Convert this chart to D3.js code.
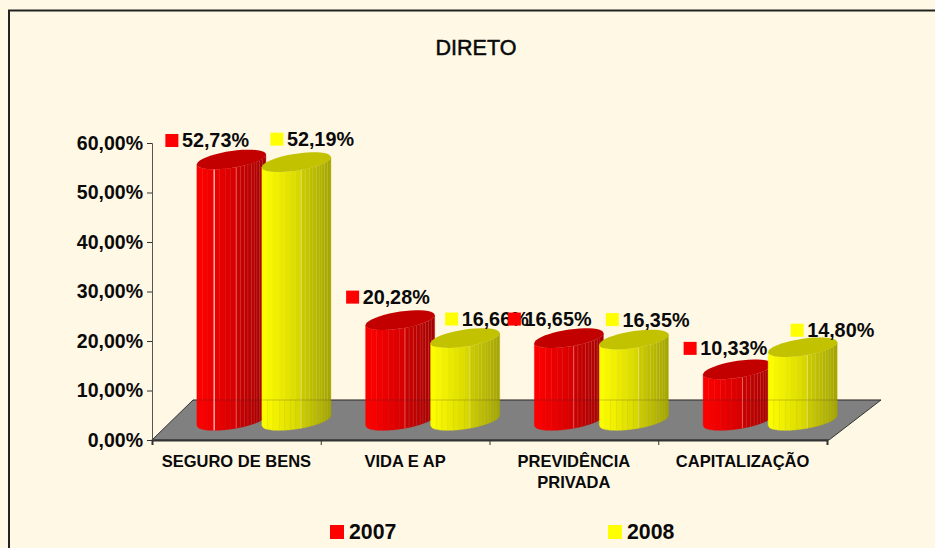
<!DOCTYPE html>
<html><head><meta charset="utf-8">
<script src="https://cdn.jsdelivr.net/npm/d3@7"></script>
<style>html,body{margin:0;padding:0;background:#FFF8E5;overflow:hidden}svg{display:block}text{font-family:"Liberation Sans",Arial,sans-serif;fill:#0a0a0a}</style>
</head><body><svg id="c" width="935" height="548"></svg>
<script>
const title = "DIRETO";
const categories = ["SEGURO DE BENS", "VIDA E AP", "PREVIDÊNCIA PRIVADA", "CAPITALIZAÇÃO"];
const seriesNames = ["2007", "2008"];
const values2007 = [52.73, 20.28, 16.65, 10.33];
const values2008 = [52.19, 16.66, 16.35, 14.80];
const yTicks = [0, 10, 20, 30, 40, 50, 60];

// layout only: label nudges relative to the top of each cylinder
const labelDx = [[-66, -54, -61, -54], [-26, -20, -28, -12]];
const labelDy = [[-19, -23, -19, -21], [-23, -19, -20, -17]];

const fmt = v => v.toFixed(2).replace(".", ",") + "%";
const svg = d3.select("#c");
const W = 935, H = 548;
const left = 152, right = 827, y0 = 440, yTop = 143, depthX = 52, depthY = 40;
const baseLift = 19.5, barOffset = 27.5;

const colors = [[255, 0, 0], [255, 255, 0]];
const shade = (c, f) => d3.rgb(c[0] * f, c[1] * f, c[2] * f).formatRgb();

const x = d3.scaleBand().domain(categories).range([left, right]);
const edge = d3.scaleLinear().domain([0, categories.length]).range([left, right]);
const y = d3.scaleLinear().domain([0, 60]).range([y0, yTop]);
const sub = d3.scaleBand().domain(seriesNames).range([-65, 65]);

// frame
svg.append("path").attr("d", `M9,${H}V10.5H${W}`).attr("fill", "none").attr("stroke", "#222").attr("stroke-width", 2);

// title
svg.append("text").attr("x", 476).attr("y", 55).attr("text-anchor", "middle")
  .attr("font-size", 21.5).attr("stroke", "#0a0a0a").attr("stroke-width", .5).text(title);

// floor
svg.append("path").attr("d", d3.line()([[left, y0], [right + 2, y0], [right + 2 + depthX, y0 - depthY], [left + 41, y0 - depthY]]) + "Z")
  .attr("fill", "#808080").attr("stroke", "#333").attr("stroke-width", 1);

// axes
const gy = svg.append("g").attr("transform", `translate(${left},0)`)
  .call(d3.axisLeft(y).tickValues(yTicks).tickSize(5).tickPadding(4).tickFormat(d => fmt(d)));
gy.select(".domain").attr("stroke", "#555");
gy.selectAll(".tick line").attr("stroke", "#333");
gy.selectAll("text").attr("font-size", 19.5).attr("font-weight", 700).attr("font-family", '"Liberation Sans"').attr("fill", "#0a0a0a");

const gx = svg.append("g").attr("transform", `translate(0,${y0})`)
  .call(d3.axisBottom(edge).ticks(categories.length).tickSize(5).tickFormat(""));
gx.select(".domain").attr("stroke", "#333").attr("stroke-width", 2);
gx.selectAll(".tick line").attr("stroke", "#333");

// category labels with wrapping
const catText = svg.append("g").selectAll("text").data(categories).join("text")
  .attr("text-anchor", "middle").attr("font-size", 16.5).attr("font-weight", 700);
catText.each(function (d) {
  const t = d3.select(this), cx = x(d) + x.bandwidth() / 2;
  const probe = t.text(d).node().getComputedTextLength();
  t.text(null);
  const lines = probe > x.bandwidth() ? d.split(" ") : [d];
  lines.forEach((l, i) => t.append("tspan").attr("x", cx).attr("y", 467 + i * 21).text(l));
});

// cylinders
const rx = 34.5, ry = 8.5, skew = 5;
const stripes = [0, .08, .16, .25, .33, .41, .49, .57, .63, .69, .74, .79, .83, .87, .91, .95, 1];
const bright = d3.scaleLinear().domain([0, .25, .55, .6, 1]).range([1, .93, .84, .79, .64]);
const ell = (cx, cy, t) => [cx + rx * Math.cos(t), cy + ry * Math.sin(t) - skew * Math.cos(t)];
const tOf = u => Math.PI - Math.acos(1 - 2 * u); // t for fraction u across the width, front side

function cylinder(g, cx, val, s, i) {
  const topY = y(val) - baseLift, botY = y0 - baseLift;
  const c = colors[s];
  d3.pairs(stripes).forEach(([a, b]) => {
    const us = d3.range(0, 5).map(k => a + (b - a) * k / 4);
    const upper = us.map(u => ell(cx, topY, tOf(u)));
    const lower = us.map(u => ell(cx, botY, tOf(u))).reverse();
    const col = shade(c, bright((a + b) / 2));
    g.append("path").attr("d", d3.line()(upper.concat(lower)) + "Z")
      .attr("fill", col).attr("stroke", col).attr("stroke-width", .4);
    if (a >= .57) {
      const p = ell(cx, topY, tOf(a)), q = ell(cx, botY, tOf(a));
      g.append("line").attr("x1", p[0]).attr("y1", p[1]).attr("x2", q[0]).attr("y2", q[1])
        .attr("stroke", "#fff").attr("stroke-opacity", a === .57 ? .45 : .14).attr("stroke-width", .8);
    }
  });
  // bright lead-in edge of the first bar
  if (s === 0 && i === 0) {
    const p = ell(cx, topY, tOf(.25)), q = ell(cx, botY, tOf(.25));
    g.append("line").attr("x1", p[0]).attr("y1", p[1]).attr("x2", q[0]).attr("y2", q[1]).attr("stroke", "#fff").attr("stroke-width", 1);
  }
  const ring = d3.range(0, 41).map(k => ell(cx, topY, k / 40 * 2 * Math.PI));
  g.append("path").attr("d", d3.line()(ring) + "Z").attr("fill", shade(c, .76));
}

const seriesValues = [values2007, values2008];
const barsG = svg.append("g");
categories.forEach((cat, i) => {
  seriesNames.forEach((name, s) => {
    const cx = x(cat) + x.bandwidth() / 2 + barOffset + sub(name) + sub.bandwidth() / 2;
    cylinder(barsG, cx, seriesValues[s][i], s, i);
  });
});
// floor's back edge faintly seen through the cylinders
svg.append("line").attr("x1", left + 41).attr("x2", right + 2 + depthX).attr("y1", y0 - depthY).attr("y2", y0 - depthY)
  .attr("stroke", "#333").attr("stroke-opacity", .22);

// data labels
categories.forEach((cat, i) => {
  seriesNames.forEach((name, s) => {
    const v = seriesValues[s][i];
    const cx = x(cat) + x.bandwidth() / 2 + barOffset + sub(name) + sub.bandwidth() / 2;
    const lx = cx + labelDx[s][i], ly = y(v) - baseLift + labelDy[s][i];
    const g = svg.append("g");
    g.append("text").attr("x", lx + 16.5).attr("y", ly + 7).attr("font-size", 19.8).attr("font-weight", 700).text(fmt(v));
    g.append("rect").attr("x", lx).attr("y", ly - 6.5).attr("width", 13).attr("height", 13).attr("fill", shade(colors[s], 1));
  });
});

// legend
const legendX = d3.scalePoint().domain(seriesNames).range([330, 608]);
seriesNames.forEach((name, s) => {
  svg.append("rect").attr("x", legendX(name)).attr("y", 525).attr("width", 14).attr("height", 14).attr("fill", shade(colors[s], 1));
  svg.append("text").attr("x", legendX(name) + 19).attr("y", 539).attr("font-size", 21.3).attr("font-weight", 700).text(name);
});
</script></body></html>
